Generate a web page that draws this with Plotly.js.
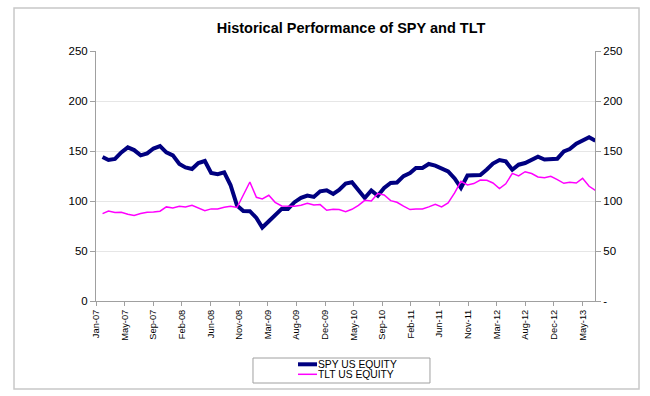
<!DOCTYPE html>
<html>
<head>
<meta charset="utf-8">
<script src="https://cdn.plot.ly/plotly-3.0.1.min.js"></script>
<style>html,body{margin:0;padding:0;background:#fff;}#chart{width:650px;height:396px;}</style>
</head>
<body>
<div id="chart"></div>
<script>
var months = [
 '2007-01','2007-02','2007-03','2007-04','2007-05','2007-06','2007-07','2007-08','2007-09','2007-10','2007-11','2007-12',
 '2008-01','2008-02','2008-03','2008-04','2008-05','2008-06','2008-07','2008-08','2008-09','2008-10','2008-11','2008-12',
 '2009-01','2009-02','2009-03','2009-04','2009-05','2009-06','2009-07','2009-08','2009-09','2009-10','2009-11','2009-12',
 '2010-01','2010-02','2010-03','2010-04','2010-05','2010-06','2010-07','2010-08','2010-09','2010-10','2010-11','2010-12',
 '2011-01','2011-02','2011-03','2011-04','2011-05','2011-06','2011-07','2011-08','2011-09','2011-10','2011-11','2011-12',
 '2012-01','2012-02','2012-03','2012-04','2012-05','2012-06','2012-07','2012-08','2012-09','2012-10','2012-11','2012-12',
 '2013-01','2013-02','2013-03','2013-04','2013-05','2013-06'
];
var spy = [
 144.0,141.0,142.0,148.6,153.6,150.9,145.6,147.6,152.5,154.9,148.6,145.6,
 137.0,133.6,132.0,138.0,140.0,128.0,126.9,128.7,116.0,95.5,90.0,89.8,
 83.1,73.5,79.8,86.4,92.1,92.1,98.8,103.1,105.4,104.1,109.7,110.7,
 107.1,111.0,117.4,118.7,110.0,103.0,110.5,105.2,113.0,118.1,118.5,124.9,
 128.0,133.0,133.0,137.0,135.4,132.5,129.6,122.5,113.1,125.5,125.3,126.0,
 131.5,137.4,141.0,139.6,131.3,136.3,138.0,141.0,144.4,141.5,142.0,142.3,
 149.6,152.0,157.3,160.3,163.8,160.3
];
var tlt = [
 87.4,90.0,88.4,88.8,86.8,85.5,87.4,88.8,89.0,89.8,94.1,93.1,
 94.8,94.1,95.8,93.1,90.4,92.1,92.1,93.8,94.8,93.5,106.0,119.0,
 103.7,102.1,105.7,98.7,95.0,94.8,94.8,95.8,97.7,96.1,96.4,90.7,
 91.8,91.5,89.4,91.7,95.7,100.7,100.0,107.4,106.0,100.4,98.7,94.8,
 91.4,92.1,92.1,94.1,96.7,94.1,98.1,108.1,119.7,116.0,117.4,121.0,
 120.7,118.0,112.4,117.2,127.6,125.0,129.3,127.5,124.0,123.2,124.7,121.4,
 117.7,118.7,118.0,122.7,114.7,110.6
];
var seriesNames = ['SPY US EQUITY', 'TLT US EQUITY'];
var xTickVals = ['2007-01-01','2007-05-17','2007-09-30','2008-02-13','2008-06-28','2008-11-11',
 '2009-03-27','2009-08-10','2009-12-24','2010-05-09','2010-09-22','2011-02-05','2011-06-21',
 '2011-11-04','2012-03-19','2012-08-02','2012-12-16','2013-05-01'];
var xTickText = ['Jan-07','May-07','Sep-07','Feb-08','Jun-08','Nov-08','Mar-09','Aug-09','Dec-09',
 'May-10','Sep-10','Feb-11','Jun-11','Nov-11','Mar-12','Aug-12','Dec-12','May-13'];
var yTickVals = [0,50,100,150,200,250];
var yTickTextLeft = ['0','50','100','150','200','250'];
var yTickTextRight = ['-','50','100','150','200','250'];

var FONT = 'Liberation Sans, Arial, sans-serif';
var AX = '#a0a0a0';

var traces = [
 {x: months, y: spy, name: seriesNames[0], type: 'scatter', mode: 'lines',
  xperiod: 'M1', xperiodalignment: 'end',
  line: {color: '#000080', width: 4}, yaxis: 'y'},
 {x: months, y: tlt, name: seriesNames[1], type: 'scatter', mode: 'lines',
  xperiod: 'M1', xperiodalignment: 'end',
  line: {color: '#ff00ff', width: 1.5}, yaxis: 'y2'}
];

var lx0 = 0.4048, lx1 = 0.4429;
var layout = {
 width: 650, height: 396,
 margin: {l: 96, r: 55, t: 51, b: 95},
 paper_bgcolor: '#ffffff', plot_bgcolor: '#ffffff',
 showlegend: false,
 font: {family: FONT, color: '#000000'},
 title: {text: '<b>Historical Performance of SPY and TLT</b>', x: 0.54, xanchor: 'center',
  y: 0.929, yanchor: 'middle', font: {family: FONT, size: 14.5, color: '#000000'}},
 xaxis: {type: 'date', range: ['2006-12-31 20:00', '2013-06-29'],
  tickmode: 'array', tickvals: xTickVals, ticktext: xTickText, tickangle: -90,
  ticks: 'outside', ticklen: 4, tickcolor: AX, tickwidth: 1,
  showline: true, linecolor: AX, linewidth: 1, showgrid: false, zeroline: false,
  tickfont: {family: FONT, size: 9.3, color: '#000000'}},
 yaxis: {range: [0, 250], tickmode: 'array', tickvals: yTickVals, ticktext: yTickTextLeft,
  ticks: 'outside', ticklen: 5, tickcolor: AX, showline: true, linecolor: AX, linewidth: 1,
  showgrid: true, gridcolor: '#e6e6e6', gridwidth: 1, zeroline: false,
  tickfont: {family: FONT, size: 11.5, color: '#000000'}},
 yaxis2: {range: [0, 250], overlaying: 'y', side: 'right', tickmode: 'array',
  tickvals: yTickVals, ticktext: yTickTextRight,
  ticks: 'outside', ticklen: 5, tickcolor: AX, showline: true, linecolor: AX, linewidth: 1,
  showgrid: false, zeroline: false,
  tickfont: {family: FONT, size: 11.5, color: '#000000'}},
 shapes: [
  {type: 'rect', xref: 'paper', yref: 'paper', x0: -0.1643, x1: 1.0882, y0: -0.352, y1: 1.172,
   line: {color: '#c8c8c8', width: 1.5}, fillcolor: 'rgba(0,0,0,0)'},
  {type: 'rect', xref: 'paper', yref: 'paper', x0: 0.3146, x1: 0.6693, y0: -0.328, y1: -0.228,
   line: {color: '#a0a0a0', width: 1}, fillcolor: 'rgba(0,0,0,0)'},
  {type: 'line', xref: 'paper', yref: 'paper', x0: lx0, x1: lx1, y0: -0.2532, y1: -0.2532,
   line: {color: '#000080', width: 4}},
  {type: 'line', xref: 'paper', yref: 'paper', x0: lx0, x1: lx1, y0: -0.2932, y1: -0.2932,
   line: {color: '#ff00ff', width: 1.5}}
 ],
 annotations: [
  {xref: 'paper', yref: 'paper', x: lx1, y: -0.2532, xanchor: 'left', yanchor: 'middle',
   text: seriesNames[0], showarrow: false, borderpad: 0,
   font: {family: FONT, size: 10.3, color: '#000000'}},
  {xref: 'paper', yref: 'paper', x: lx1, y: -0.2932, xanchor: 'left', yanchor: 'middle',
   text: seriesNames[1], showarrow: false, borderpad: 0,
   font: {family: FONT, size: 10.3, color: '#000000'}}
 ]
};
Plotly.newPlot('chart', traces, layout, {staticPlot: true, displayModeBar: false});
</script>
</body>
</html>
